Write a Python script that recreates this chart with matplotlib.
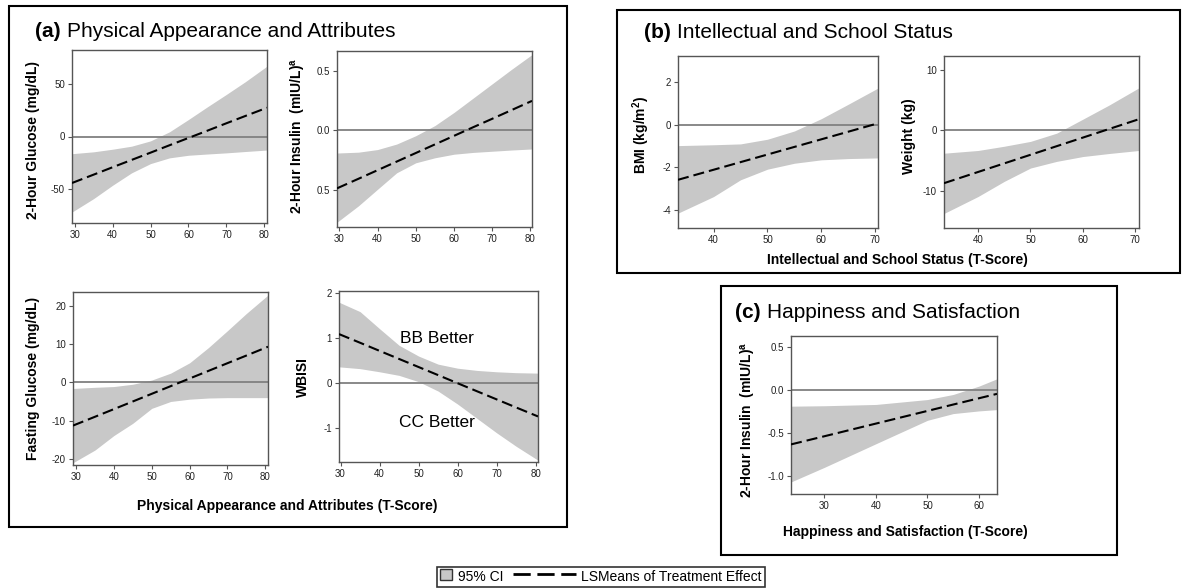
import numpy as np
import matplotlib
matplotlib.use("Agg")
import matplotlib.pyplot as plt
from matplotlib.patches import Rectangle, Patch
from matplotlib.lines import Line2D

plt.rcParams["font.family"] = ["Liberation Sans", "DejaVu Sans"]
plt.rcParams["axes.unicode_minus"] = False
plt.rcParams["mathtext.fontset"] = "custom"
plt.rcParams["mathtext.rm"] = "Liberation Sans"
plt.rcParams["mathtext.bf"] = "Liberation Sans:bold"

W, H = 1183, 588

# (a) Physical Appearance and Attributes
glu2h_x = [29.3, 35, 40, 45, 50, 55, 60, 65, 70, 75, 80.7]
glu2h_mean = [-44.6, -36.6, -29.5, -22.5, -15.5, -8.4, -1.4, 5.6, 12.7, 19.7, 27.6]
glu2h_hi = [-16.5, -14.7, -12.2, -9.3, -4.2, 4.5, 16.3, 28.5, 40.4, 52.6, 67.5]
glu2h_lo = [-72.5, -59.6, -46.8, -34.9, -26.0, -20.5, -18.0, -16.8, -15.7, -14.4, -13.0]

ins2h_x = [29.4, 35, 40, 45, 50, 55, 60, 65, 70, 75, 80.4]
ins2h_mean = [-0.486, -0.406, -0.334, -0.262, -0.190, -0.118, -0.046, 0.026, 0.097, 0.169, 0.247]
ins2h_hi = [-0.19, -0.183, -0.161, -0.115, -0.045, 0.04, 0.15, 0.27, 0.39, 0.51, 0.635]
ins2h_lo = [-0.77, -0.633, -0.494, -0.356, -0.272, -0.23, -0.20, -0.185, -0.175, -0.165, -0.156]

fglu_x = [29.2, 35, 40, 45, 50, 55, 60, 65, 70, 75, 80.7]
fglu_mean = [-11.3, -9.0, -7.0, -5.0, -3.0, -1.0, 1.0, 3.0, 5.0, 7.0, 9.3]
fglu_hi = [-1.6, -1.3, -1.1, -0.5, 0.6, 2.4, 5.1, 9.1, 13.5, 18.0, 22.8]
fglu_lo = [-21.0, -17.7, -13.9, -10.7, -6.8, -5.0, -4.4, -4.1, -4.0, -4.0, -4.0]

wbisi_x = [29.6, 35, 40, 45, 50, 55, 60, 65, 70, 75, 80.6]
wbisi_mean = [1.09, 0.897, 0.716, 0.536, 0.356, 0.176, -0.005, -0.185, -0.365, -0.545, -0.745]
wbisi_hi = [1.80, 1.59, 1.21, 0.84, 0.60, 0.42, 0.33, 0.28, 0.25, 0.23, 0.22]
wbisi_lo = [0.36, 0.32, 0.25, 0.17, 0.03, -0.18, -0.47, -0.79, -1.11, -1.41, -1.72]

# (b) Intellectual and School Status
bmi_x = [33.4, 40, 45, 50, 55, 60, 65, 70.5]
bmi_mean = [-2.6, -2.127, -1.768, -1.41, -1.051, -0.693, -0.334, 0.06]
bmi_hi = [-0.99, -0.95, -0.91, -0.69, -0.30, 0.28, 0.96, 1.72]
bmi_lo = [-4.17, -3.39, -2.60, -2.10, -1.82, -1.66, -1.60, -1.57]

wt_x = [33.5, 40, 45, 50, 55, 60, 65, 70.7]
wt_mean = [-8.7, -6.85, -5.43, -4.01, -2.59, -1.17, 0.25, 1.87]
wt_hi = [-3.75, -3.3, -2.6, -1.8, -0.44, 1.87, 4.2, 7.05]
wt_lo = [-13.7, -10.9, -8.4, -6.2, -5.1, -4.3, -3.8, -3.3]

# (c) Happiness and Satisfaction
hs_x = [23.5, 30, 40, 50, 55, 60, 63.5]
hs_mean = [-0.634, -0.539, -0.392, -0.245, -0.171, -0.098, -0.047]
hs_hi = [-0.19, -0.185, -0.17, -0.113, -0.054, 0.043, 0.128]
hs_lo = [-1.07, -0.90, -0.626, -0.354, -0.276, -0.245, -0.23]

ticks_a_x = [30, 40, 50, 60, 70, 80]
ticks_b_x = [40, 50, 60, 70]
ticks_c_x = [30, 40, 50, 60]

CI_COLOR = "#c8c8c8"
DASH = (0, (5.3, 2.4))

fig = plt.figure(figsize=(W / 100, H / 100), dpi=100)


def add_ax(l, t, r, b):
    return fig.add_axes([l / W, 1 - b / H, (r - l) / W, (b - t) / H])


def draw(ax, x, lo, hi, mid, ylim, xticks, yticks, ylabels=None):
    ax.fill_between(x, lo, hi, color=CI_COLOR, lw=0, zorder=1)
    ax.axhline(0, color="#808080", lw=1.3, zorder=2)
    ax.plot(x, mid, color="black", lw=1.5, ls=DASH, zorder=3)
    ax.set_xlim(x[0], x[-1])
    ax.set_ylim(ylim)
    ax.set_xticks(xticks)
    ax.set_yticks(yticks)
    if ylabels is not None:
        ax.set_yticklabels(ylabels)
    ax.tick_params(labelsize=7, length=3, width=0.8, color="#555555",
                   labelcolor="#222222", pad=2)
    for s in ax.spines.values():
        s.set_color("#555555")
        s.set_linewidth(1)


def ylab(x, y, s):
    fig.text(x / W, 1 - y / H, s, rotation=90, ha="center", va="center",
             fontsize=10, fontweight="bold")


def xlab(x, y, s):
    fig.text(x / W, 1 - y / H, s, ha="center", va="center",
             fontsize=10, fontweight="bold")


def title(x, y, tag, s):
    t = fig.text(x / W, 1 - y / H, tag, fontsize=15, fontweight="bold",
                 ha="left", va="baseline")
    bb = t.get_window_extent(renderer=fig.canvas.get_renderer())
    fig.text((bb.x1 + 6) / W, 1 - y / H, s, fontsize=15, ha="left", va="baseline")


def box(l, t, r, b):
    fig.add_artist(Rectangle((l / W, 1 - b / H), (r - l) / W, (b - t) / H,
                             transform=fig.transFigure, fill=False,
                             edgecolor="black", lw=1.5))


# panel (a)
box(9, 6, 567, 527)
title(35, 37, "(a)", "Physical Appearance and Attributes")

ax = add_ax(72, 50, 267, 223)
draw(ax, glu2h_x, glu2h_lo, glu2h_hi, glu2h_mean, (-83, 83), ticks_a_x, [-50, 0, 50])
ylab(33, 140, "2-Hour Glucose (mg/dL)")

ax = add_ax(337, 51, 532, 227)
draw(ax, ins2h_x, ins2h_lo, ins2h_hi, ins2h_mean, (-0.81, 0.665), ticks_a_x,
     [-0.5, 0.0, 0.5], ["0.5", "0.0", "0.5"])
ylab(299, 136, r"2-Hour Insulin  (mIU/L)$^\mathbf{a}$")

ax = add_ax(73, 292, 268, 465)
draw(ax, fglu_x, fglu_lo, fglu_hi, fglu_mean, (-21.6, 23.6), ticks_a_x, [-20, -10, 0, 10, 20])
ylab(33, 378, "Fasting Glucose (mg/dL)")

ax = add_ax(339, 291, 538, 462)
draw(ax, wbisi_x, wbisi_lo, wbisi_hi, wbisi_mean, (-1.76, 2.05), ticks_a_x, [-1, 0, 1, 2])
ax.text(54.6, 1.0, "BB Better", ha="center", va="center", fontsize=12.5)
ax.text(54.6, -0.87, "CC Better", ha="center", va="center", fontsize=12.5)
ylab(303, 377, "WBISI")

xlab(287, 506, "Physical Appearance and Attributes (T-Score)")

# panel (b)
box(617, 10, 1180, 273)
title(644, 38, "(b)", "Intellectual and School Status")

ax = add_ax(678, 56, 878, 228)
draw(ax, bmi_x, bmi_lo, bmi_hi, bmi_mean, (-4.87, 3.23), ticks_b_x, [-4, -2, 0, 2])
ylab(641, 135, r"BMI (kg/m$^\mathbf{2}$)")

ax = add_ax(944, 56, 1139, 228)
draw(ax, wt_x, wt_lo, wt_hi, wt_mean, (-16.1, 12.3), ticks_b_x, [-10, 0, 10])
ylab(909, 136, "Weight (kg)")

xlab(897, 260, "Intellectual and School Status (T-Score)")

# panel (c)
box(721, 286, 1117, 555)
title(735, 318, "(c)", "Happiness and Satisfaction")

ax = add_ax(791, 336, 997, 494)
draw(ax, hs_x, hs_lo, hs_hi, hs_mean, (-1.21, 0.625), ticks_c_x,
     [-1.0, -0.5, 0.0, 0.5], ["-1.0", "-0.5", "0.0", "0.5"])
ylab(748, 420, r"2-Hour Insulin  (mIU/L)$^\mathbf{a}$")
xlab(905, 532, "Happiness and Satisfaction (T-Score)")


# legend
class SquareHandler:
    def legend_artist(self, legend, orig_handle, fontsize, handlebox):
        x0, y0 = handlebox.xdescent, handlebox.ydescent
        s = min(handlebox.width, handlebox.height)
        p = Rectangle((x0, y0 + (handlebox.height - s) / 2), s, s,
                      facecolor=CI_COLOR, edgecolor="#333333", lw=1,
                      transform=handlebox.get_transform())
        handlebox.add_artist(p)
        return p


class DashHandler:
    def legend_artist(self, legend, orig_handle, fontsize, handlebox):
        x0, y0 = handlebox.xdescent, handlebox.ydescent
        yc = y0 + handlebox.height / 2
        ln = Line2D([x0 - 3.6 * fontsize, x0 + handlebox.width], [yc, yc],
                    color="black", lw=2, ls=(0, (6.2, 2.4)),
                    transform=handlebox.get_transform())
        handlebox.add_artist(ln)
        return ln


ci_handle = Patch(facecolor=CI_COLOR)
mean_handle = Line2D([], [], color="black")
leg = fig.legend([ci_handle, mean_handle], ["95% CI", "LSMeans of Treatment Effect"],
                 loc="center", bbox_to_anchor=(601 / W, 1 - 577 / H), ncol=2,
                 fontsize=10, frameon=True, fancybox=False, edgecolor="black",
                 handlelength=0.9, handleheight=0.9, handletextpad=0.4,
                 columnspacing=4.3, borderpad=0.25, borderaxespad=0,
                 handler_map={ci_handle: SquareHandler(), mean_handle: DashHandler()})
leg.get_frame().set_linewidth(1.2)

fig.savefig("out.png", dpi=100)
